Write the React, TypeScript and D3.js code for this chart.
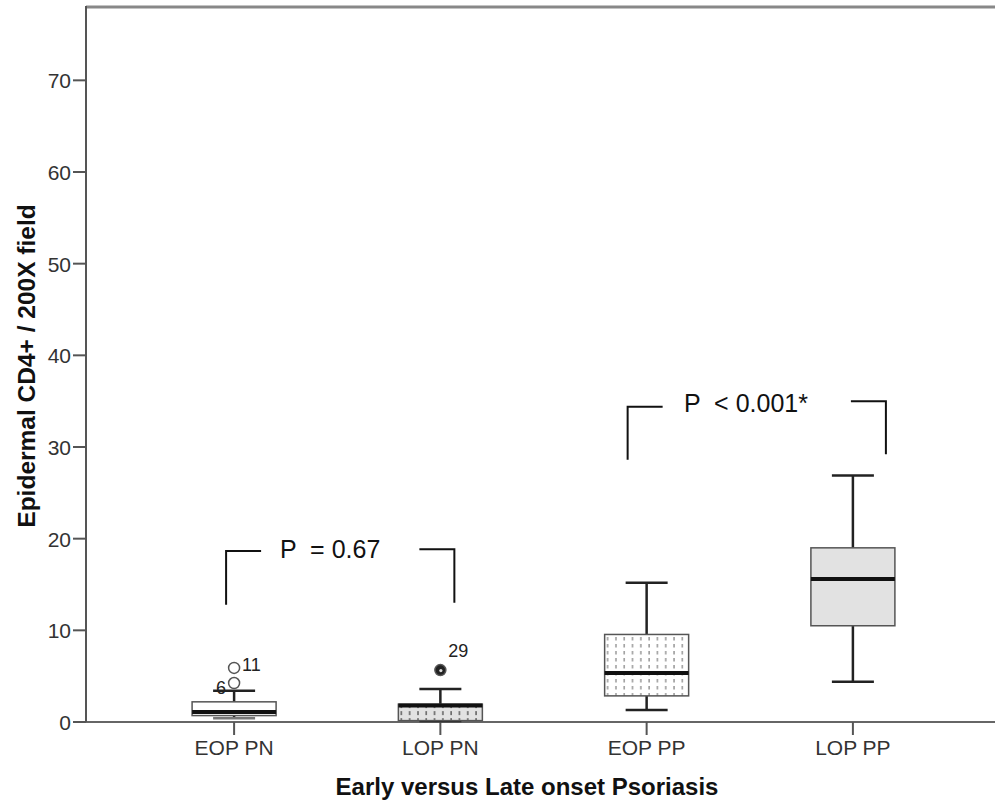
import React, { useEffect, useRef } from 'react';
import * as d3 from 'd3';

// groups on the x axis
const categories = ['EOP PN', 'LOP PN', 'EOP PP', 'LOP PP'];

// box plot stats
const lowerWhisker = [0.4, 0.1, 1.3, 4.4];
const q1 = [0.7, 0.15, 2.85, 10.5];
const median = [1.1, 1.8, 5.35, 15.6];
const q3 = [2.2, 1.95, 9.55, 19.0];
const upperWhisker = [3.4, 3.6, 15.2, 26.9];

// outliers: group index, value, case label
const outlierGroup = [0, 0, 1];
const outlierValue = [5.9, 4.25, 5.66];
const outlierLabel = ['11', '6', '29'];

const yTicks = [0, 10, 20, 30, 40, 50, 60, 70];

// significance brackets
const pLabels = ['P  = 0.67', 'P  < 0.001*'];
const pLeftGroup = [0, 2];
const pLeftTop = [18.65, 34.4];
const pLeftBottom = [12.8, 28.6];
const pRightTop = [18.85, 35.0];
const pRightBottom = [13.0, 29.2];

const W = 995;
const H = 802;
const FONT = "'Liberation Sans', Arial, sans-serif";

export default function App() {
  const svgRef = useRef<SVGSVGElement>(null);

  useEffect(() => {
    if (!svgRef.current) return;
    const svg = d3.select(svgRef.current);
    svg.selectAll('*').remove();

    const left = 86;
    const right = 1001;
    const top = 7;
    const bottom = 722;

    const x = d3.scalePoint<string>().domain(categories).range([left, right]).padding(0.718);
    const y = d3.scaleLinear().domain([0, 78]).range([bottom, top]);
    const boxW = 84;
    const capW = 42;

    // patterns
    const defs = svg.append('defs');
    const dots = defs.append('pattern')
      .attr('id', 'dots')
      .attr('patternUnits', 'userSpaceOnUse')
      .attr('width', 8.3)
      .attr('height', 7)
      .attr('x', x('EOP PP')! - boxW / 2 + 2);
    dots.append('rect').attr('width', 8.3).attr('height', 7).attr('fill', '#fff');
    dots.append('line').attr('x1', 1).attr('x2', 1).attr('y1', 0).attr('y2', 3.5)
      .attr('stroke', '#888').attr('stroke-width', 1.3);

    const dotsGray = defs.append('pattern')
      .attr('id', 'dotsGray')
      .attr('patternUnits', 'userSpaceOnUse')
      .attr('width', 8.3)
      .attr('height', 7)
      .attr('x', x('LOP PN')! - boxW / 2 + 2)
      .attr('y', y(1.95));
    dotsGray.append('rect').attr('width', 8.3).attr('height', 7).attr('fill', '#e2e2e2');
    dotsGray.append('line').attr('x1', 1).attr('x2', 1).attr('y1', 0).attr('y2', 4)
      .attr('stroke', '#555').attr('stroke-width', 1.4);

    const fills = ['#ffffff', 'url(#dotsGray)', 'url(#dots)', '#e2e2e2'];

    // frame
    svg.append('line').attr('x1', left).attr('x2', W).attr('y1', top).attr('y2', top)
      .attr('stroke', '#888').attr('stroke-width', 3);
    svg.append('line').attr('x1', left).attr('x2', W).attr('y1', bottom).attr('y2', bottom)
      .attr('stroke', '#666').attr('stroke-width', 2);
    svg.append('line').attr('x1', left).attr('x2', left).attr('y1', top - 1).attr('y2', bottom)
      .attr('stroke', '#555').attr('stroke-width', 2);

    // y ticks
    const yt = svg.append('g');
    yt.selectAll('line').data(yTicks).enter().append('line')
      .attr('x1', left - 13).attr('x2', left).attr('y1', d => y(d)).attr('y2', d => y(d))
      .attr('stroke', '#555').attr('stroke-width', 2);
    yt.selectAll('text').data(yTicks).enter().append('text')
      .attr('x', left - 15).attr('y', d => y(d) + 8)
      .attr('text-anchor', 'end').attr('font-family', FONT).attr('font-size', 21)
      .attr('fill', '#333').text(d => d);

    // x ticks
    const xt = svg.append('g');
    xt.selectAll('line').data(categories).enter().append('line')
      .attr('x1', d => x(d)!).attr('x2', d => x(d)!).attr('y1', bottom).attr('y2', bottom + 13)
      .attr('stroke', '#555').attr('stroke-width', 2);
    xt.selectAll('text').data(categories).enter().append('text')
      .attr('x', d => x(d)!).attr('y', 755)
      .attr('text-anchor', 'middle').attr('font-family', FONT).attr('font-size', 21)
      .attr('fill', '#333').text(d => d);

    // axis titles
    svg.append('text')
      .attr('x', 527).attr('y', 795)
      .attr('text-anchor', 'middle').attr('font-family', FONT).attr('font-weight', 'bold')
      .attr('font-size', 24).attr('fill', '#111')
      .text('Early versus Late onset Psoriasis');
    svg.append('text')
      .attr('transform', `translate(35,366) rotate(-90)`)
      .attr('text-anchor', 'middle').attr('font-family', FONT).attr('font-weight', 'bold')
      .attr('font-size', 24.5).attr('fill', '#111')
      .text('Epidermal CD4+ / 200X field');

    // boxes
    categories.forEach((c, i) => {
      const cx = x(c)!;
      const g = svg.append('g');
      g.append('line').attr('x1', cx).attr('x2', cx)
        .attr('y1', y(upperWhisker[i])).attr('y2', y(q3[i]))
        .attr('stroke', '#222').attr('stroke-width', 2.5);
      g.append('line').attr('x1', cx).attr('x2', cx)
        .attr('y1', y(q1[i])).attr('y2', y(lowerWhisker[i]))
        .attr('stroke', '#222').attr('stroke-width', 2.5);
      g.append('line').attr('x1', cx - capW / 2).attr('x2', cx + capW / 2)
        .attr('y1', y(upperWhisker[i])).attr('y2', y(upperWhisker[i]))
        .attr('stroke', '#222').attr('stroke-width', 2.5);
      g.append('line').attr('x1', cx - capW / 2).attr('x2', cx + capW / 2)
        .attr('y1', y(lowerWhisker[i])).attr('y2', y(lowerWhisker[i]))
        .attr('stroke', i === 0 ? '#777' : '#222').attr('stroke-width', 2.5);
      g.append('rect')
        .attr('x', cx - boxW / 2).attr('width', boxW)
        .attr('y', y(q3[i])).attr('height', y(q1[i]) - y(q3[i]))
        .attr('fill', fills[i]).attr('stroke', '#555').attr('stroke-width', 1.5);
      g.append('line').attr('x1', cx - boxW / 2).attr('x2', cx + boxW / 2)
        .attr('y1', y(median[i])).attr('y2', y(median[i]))
        .attr('stroke', '#111').attr('stroke-width', 4);
    });

    // outliers
    outlierValue.forEach((v, i) => {
      const cx = x(categories[outlierGroup[i]])!;
      const filled = outlierGroup[i] === 1;
      svg.append('circle')
        .attr('cx', cx).attr('cy', y(v)).attr('r', 5.5)
        .attr('fill', filled ? '#222' : '#fff')
        .attr('stroke', '#555').attr('stroke-width', 1.5);
      if (filled) {
        svg.append('circle').attr('cx', cx + 0.5).attr('cy', y(v) + 0.5).attr('r', 1.6).attr('fill', '#ddd');
      }
      const lbl = outlierLabel[i];
      const lx = lbl === '6' ? cx - 13 : cx + 8;
      const ly = lbl === '6' ? y(v) + 11 : lbl === '29' ? y(v) - 13 : y(v) + 3;
      svg.append('text')
        .attr('x', lx).attr('y', ly)
        .attr('text-anchor', lbl === '6' ? 'middle' : 'start')
        .attr('font-family', FONT).attr('font-size', 18)
        .attr('fill', '#222').text(lbl);
    });

    // significance brackets
    const leftOff = [-8, -19];
    const rightOff = [14, 33];
    const textX = [280, 684];
    const armLen = 35;
    pLabels.forEach((lbl, i) => {
      const lx = x(categories[pLeftGroup[i]])! + leftOff[i];
      const rx = x(categories[pLeftGroup[i] + 1])! + rightOff[i];
      const path = d3.path();
      path.moveTo(lx, y(pLeftBottom[i]));
      path.lineTo(lx, y(pLeftTop[i]));
      path.lineTo(lx + armLen, y(pLeftTop[i]));
      path.moveTo(rx - armLen, y(pRightTop[i]));
      path.lineTo(rx, y(pRightTop[i]));
      path.lineTo(rx, y(pRightBottom[i]));
      svg.append('path').attr('d', path.toString())
        .attr('fill', 'none').attr('stroke', '#111').attr('stroke-width', 2);
      svg.append('text')
        .attr('x', textX[i]).attr('y', (y(pLeftTop[i]) + y(pRightTop[i])) / 2 + 8)
        .attr('font-family', FONT).attr('font-size', 25).attr('fill', '#111')
        .attr('xml:space', 'preserve').style('white-space', 'pre')
        .text(lbl);
    });
  }, []);

  return (
    <svg
      ref={svgRef}
      width={W}
      height={H}
      style={{ position: 'absolute', left: 0, top: 0, background: '#fff' }}
    />
  );
}
